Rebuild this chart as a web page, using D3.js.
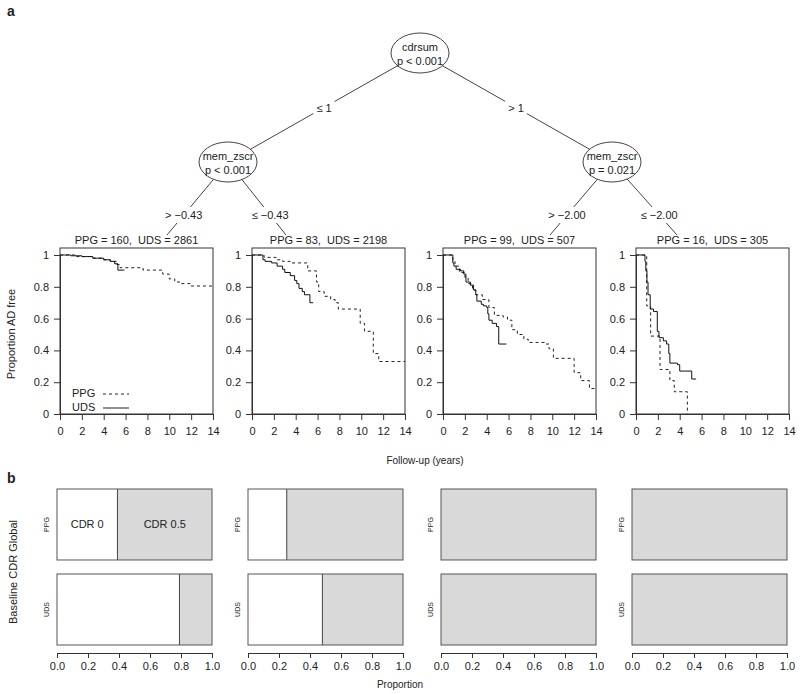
<!DOCTYPE html>
<html>
<head>
<meta charset="utf-8">
<script src="https://cdn.jsdelivr.net/npm/d3@7"></script>
<style>
  body { margin: 0; background: #fff; }
  svg { display: block; font-family: "Liberation Sans", Arial, sans-serif; }
  text { fill: #222; }
</style>
</head>
<body>
<div id="chart"></div>
<script>
// ---- values ----
const groups = ['PPG', 'UDS'];
const nodeLabels = [['cdrsum', 'p < 0.001'], ['mem_zscr', 'p < 0.001'], ['mem_zscr', 'p = 0.021']];
const splitLabels = ['\u2264 1', '> 1'];
const leafSplitLabels = ['> \u22120.43', '\u2264 \u22120.43', '> \u22122.00', '\u2264 \u22122.00'];
const panelTitles = ['PPG = 160,  UDS = 2861', 'PPG = 83,  UDS = 2198', 'PPG = 99,  UDS = 507', 'PPG = 16,  UDS = 305'];

// Kaplan-Meier steps (years, proportion AD free), one list per terminal node
const ppgTimes = [
  [0, 1.5, 3, 4, 4.6, 5.2, 5.5, 7.6, 9.4, 10, 10.5, 11.1, 12, 14],
  [0, 1.1, 2.2, 2.8, 3.5, 5.1, 5.9, 6.1, 6.6, 7.2, 7.6, 7.9, 9.9, 10.3, 11.1, 11.6, 14],
  [0, 0.9, 1.1, 1.5, 2.0, 2.3, 2.7, 3.0, 3.6, 4.2, 4.7, 5.5, 5.9, 6.3, 6.8, 7.4, 7.8, 9.3, 9.7, 10.1, 12.0, 12.6, 13.4, 14],
  [0, 0.98, 1.34, 2.2, 3.1, 3.5, 4.7]
];
const ppgSurv = [
  [1, 0.99, 0.98, 0.97, 0.96, 0.94, 0.92, 0.905, 0.88, 0.85, 0.83, 0.82, 0.805, 0.805],
  [1, 0.985, 0.97, 0.96, 0.95, 0.90, 0.83, 0.77, 0.74, 0.72, 0.70, 0.66, 0.57, 0.52, 0.38, 0.33, 0.33],
  [1, 0.96, 0.93, 0.89, 0.86, 0.82, 0.78, 0.75, 0.72, 0.67, 0.62, 0.61, 0.59, 0.53, 0.50, 0.47, 0.45, 0.44, 0.41, 0.35, 0.26, 0.21, 0.16, 0.16],
  [1, 0.68, 0.49, 0.28, 0.21, 0.14, 0]
];
const udsTimes = [
  [0, 1, 2, 3, 4, 4.6, 5.0, 5.3, 5.9],
  [0, 1.0, 1.2, 1.8, 2.3, 2.8, 3.0, 3.5, 3.9, 4.1, 4.3, 4.6, 4.8, 5.3, 5.6],
  [0, 0.9, 1.0, 1.2, 1.6, 1.9, 2.1, 2.5, 2.8, 3.0, 3.1, 3.5, 3.7, 4.0, 4.1, 4.2, 4.5, 4.9, 5.1, 5.8],
  [0, 0.82, 0.9, 1.0, 1.1, 1.3, 1.6, 1.95, 2.1, 2.5, 2.8, 3.0, 3.1, 3.8, 4.0, 5.1, 5.5]
];
const udsSurv = [
  [1, 0.995, 0.99, 0.98, 0.97, 0.96, 0.945, 0.905, 0.905],
  [1, 0.97, 0.96, 0.95, 0.93, 0.91, 0.89, 0.87, 0.84, 0.82, 0.79, 0.77, 0.75, 0.70, 0.70],
  [1, 0.95, 0.93, 0.91, 0.90, 0.88, 0.83, 0.81, 0.78, 0.75, 0.71, 0.69, 0.68, 0.67, 0.63, 0.59, 0.57, 0.55, 0.44, 0.44],
  [1, 0.96, 0.90, 0.83, 0.75, 0.66, 0.645, 0.52, 0.48, 0.46, 0.44, 0.38, 0.32, 0.31, 0.27, 0.22, 0.22]
];

// share of CDR 0 at baseline (rest is CDR 0.5)
const cdr0PPG = [0.39, 0.25, 0, 0];
const cdr0UDS = [0.79, 0.48, 0, 0];

const survTicks = [0, 0.2, 0.4, 0.6, 0.8, 1];
const yearTicks = [0, 2, 4, 6, 8, 10, 12, 14];
const propTicks = [0, 0.2, 0.4, 0.6, 0.8, 1];

// ---- layout ----
const W = 800, H = 694;
const kmLefts = [60, 252, 443, 636], kmWidth = 153;
const barLefts = [57, 248, 441, 632], barWidth = 155;
const nodePos = [[420, 53], [228, 162], [612, 162]];
const leafTargets = [[167, 235], [286, 235], [550, 235], [677, 235]];

const svg = d3.select('#chart').append('svg')
  .attr('width', W).attr('height', H)
  .style('background', '#fff');

function styleAxis(g, size) {
  g.attr('font-family', null).attr('font-size', size);
  g.selectAll('path, line').attr('stroke', '#333');
  g.selectAll('text').attr('fill', '#222');
}

// ---- panel a: tree ----
svg.append('text').attr('x', 7).attr('y', 16)
  .attr('font-size', 14).attr('font-weight', 'bold').text('a');

const tree = svg.append('g');
const edges = [
  { from: nodePos[0], to: nodePos[1], label: splitLabels[0], labelY: null },
  { from: nodePos[0], to: nodePos[2], label: splitLabels[1], labelY: null },
  { from: nodePos[1], to: leafTargets[0], label: leafSplitLabels[0], labelY: 215 },
  { from: nodePos[1], to: leafTargets[1], label: leafSplitLabels[1], labelY: 215 },
  { from: nodePos[2], to: leafTargets[2], label: leafSplitLabels[2], labelY: 215 },
  { from: nodePos[2], to: leafTargets[3], label: leafSplitLabels[3], labelY: 215 }
];

edges.forEach(e => {
  tree.append('line')
    .attr('x1', e.from[0]).attr('y1', e.from[1])
    .attr('x2', e.to[0]).attr('y2', e.to[1])
    .attr('stroke', '#444').attr('stroke-width', 1);
});

edges.forEach(e => {
  let lx, ly;
  if (e.labelY === null) {
    lx = (e.from[0] + e.to[0]) / 2;
    ly = (e.from[1] + e.to[1]) / 2;
  } else {
    const t = (e.labelY - e.from[1]) / (e.to[1] - e.from[1]);
    lx = e.from[0] + t * (e.to[0] - e.from[0]);
    ly = e.labelY;
  }
  const t = tree.append('text')
    .attr('x', lx).attr('y', ly + 4)
    .attr('text-anchor', 'middle')
    .attr('font-size', 11)
    .text(e.label);
  const bb = t.node().getBBox();
  tree.insert('rect', () => t.node())
    .attr('x', bb.x - 3).attr('y', bb.y - 2)
    .attr('width', bb.width + 6).attr('height', bb.height + 4)
    .attr('fill', '#fff');
});

nodePos.forEach((p, i) => {
  tree.append('ellipse')
    .attr('cx', p[0]).attr('cy', p[1])
    .attr('rx', 29).attr('ry', 20)
    .attr('fill', '#fff').attr('stroke', '#444');
  tree.append('text')
    .attr('x', p[0]).attr('y', p[1] - 2)
    .attr('text-anchor', 'middle').attr('font-size', 11)
    .text(nodeLabels[i][0]);
  tree.append('text')
    .attr('x', p[0]).attr('y', p[1] + 12)
    .attr('text-anchor', 'middle').attr('font-size', 11)
    .text(nodeLabels[i][1]);
});

// ---- panel a: survival curves ----
const y = d3.scaleLinear().domain([0, 1]).range([414, 255]);

kmLefts.forEach((L, i) => {
  const x = d3.scaleLinear().domain([0, 14]).range([L, L + kmWidth]);
  const g = svg.append('g');

  g.append('text')
    .attr('x', L + kmWidth / 2).attr('y', 244)
    .attr('text-anchor', 'middle').attr('font-size', 11)
    .style('white-space', 'pre')
    .text(panelTitles[i]);

  g.append('rect')
    .attr('x', L).attr('y', 248)
    .attr('width', kmWidth).attr('height', 414 - 248)
    .attr('fill', 'none').attr('stroke', '#333');

  g.append('g').attr('transform', `translate(${L},0)`)
    .call(d3.axisLeft(y).tickValues(survTicks).tickFormat(d3.format('~g'))
      .tickSize(6).tickSizeOuter(0).tickPadding(5))
    .call(a => styleAxis(a, 11));

  g.append('g').attr('transform', 'translate(0,414)')
    .call(d3.axisBottom(x).tickValues(yearTicks).tickSize(6).tickSizeOuter(0).tickPadding(7))
    .call(a => styleAxis(a, 11));

  const line = d3.line()
    .x(d => x(d[0])).y(d => y(d[1]))
    .curve(d3.curveStepAfter);

  g.append('path')
    .datum(d3.zip(ppgTimes[i], ppgSurv[i]))
    .attr('d', line)
    .attr('fill', 'none').attr('stroke', '#222')
    .attr('stroke-dasharray', '3,3');

  g.append('path')
    .datum(d3.zip(udsTimes[i], udsSurv[i]))
    .attr('d', line)
    .attr('fill', 'none').attr('stroke', '#111');
});

// legend in first panel
const legend = svg.append('g');
groups.forEach((name, i) => {
  const ly = 393 + i * 14;
  legend.append('text').attr('x', 72).attr('y', ly + 4)
    .attr('font-size', 11).text(name);
  legend.append('line')
    .attr('x1', 103).attr('x2', 129).attr('y1', ly + 1).attr('y2', ly + 1)
    .attr('stroke', '#222')
    .attr('stroke-dasharray', name === 'PPG' ? '3,3' : null);
});

svg.append('text')
  .attr('transform', 'translate(15,334) rotate(-90)')
  .attr('text-anchor', 'middle').attr('font-size', 11)
  .text('Proportion AD free');

svg.append('text')
  .attr('x', 425).attr('y', 464)
  .attr('text-anchor', 'middle').attr('font-size', 10)
  .text('Follow-up (years)');

// ---- panel b: baseline CDR bars ----
svg.append('text').attr('x', 7).attr('y', 483)
  .attr('font-size', 14).attr('font-weight', 'bold').text('b');

const rowScale = d3.scaleBand().domain(groups).range([489, 645]).paddingInner(0.165);
const cdr0 = { PPG: cdr0PPG, UDS: cdr0UDS };

barLefts.forEach((L, i) => {
  const xb = d3.scaleLinear().domain([0, 1]).range([L, L + barWidth]);
  const g = svg.append('g');

  groups.forEach(gr => {
    const top = rowScale(gr), h = rowScale.bandwidth();
    const v = cdr0[gr][i];
    g.append('rect')
      .attr('x', xb(0)).attr('y', top)
      .attr('width', xb(v) - xb(0)).attr('height', h)
      .attr('fill', '#fff');
    g.append('rect')
      .attr('x', xb(v)).attr('y', top)
      .attr('width', xb(1) - xb(v)).attr('height', h)
      .attr('fill', '#d9d9d9');
    if (v > 0) {
      g.append('line')
        .attr('x1', xb(v)).attr('x2', xb(v))
        .attr('y1', top).attr('y2', top + h)
        .attr('stroke', '#444');
    }
    g.append('rect')
      .attr('x', xb(0)).attr('y', top)
      .attr('width', xb(1) - xb(0)).attr('height', h)
      .attr('fill', 'none').attr('stroke', '#555');

    g.append('text')
      .attr('transform', `translate(${L - 8},${top + h / 2}) rotate(-90)`)
      .attr('text-anchor', 'middle').attr('font-size', 7)
      .attr('fill', '#444')
      .text(gr);

    if (i === 0 && gr === 'PPG') {
      g.append('text')
        .attr('x', (xb(0) + xb(v)) / 2).attr('y', top + h / 2 + 4)
        .attr('text-anchor', 'middle').attr('font-size', 11)
        .text('CDR 0');
      g.append('text')
        .attr('x', (xb(v) + xb(1)) / 2).attr('y', top + h / 2 + 4)
        .attr('text-anchor', 'middle').attr('font-size', 11)
        .text('CDR 0.5');
    }
  });

  g.append('g').attr('transform', 'translate(0,653)')
    .call(d3.axisBottom(xb).tickValues(propTicks).tickFormat(d3.format('.1f'))
      .tickSize(5).tickSizeOuter(0).tickPadding(4))
    .call(a => styleAxis(a, 11));
});

svg.append('text')
  .attr('x', 400).attr('y', 688)
  .attr('text-anchor', 'middle').attr('font-size', 10)
  .text('Proportion');

svg.append('text')
  .attr('transform', 'translate(17,572) rotate(-90)')
  .attr('text-anchor', 'middle').attr('font-size', 11)
  .text('Baseline CDR Global');
</script>
</body>
</html>
